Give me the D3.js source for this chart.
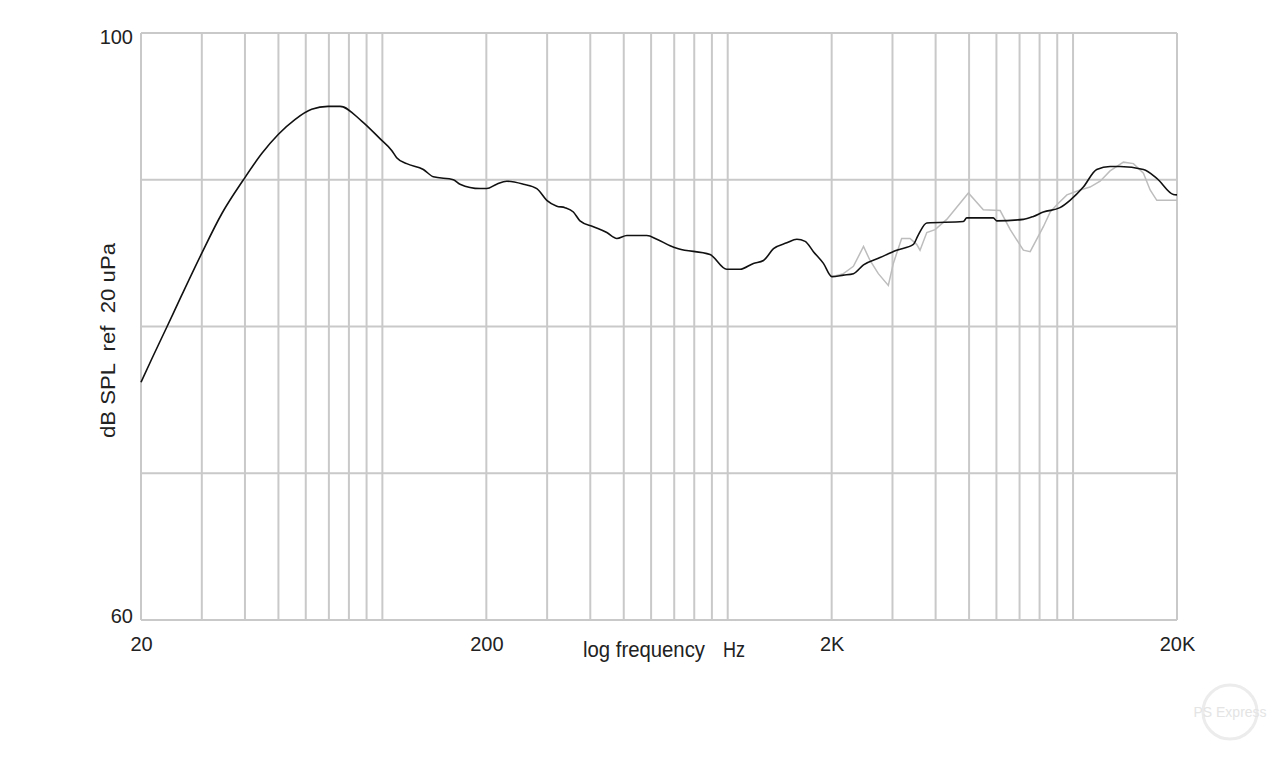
<!DOCTYPE html>
<html>
<head>
<meta charset="utf-8">
<script src="https://cdn.jsdelivr.net/npm/d3@7"></script>
<style>
  body { margin: 0; background: #fff; }
  svg { display: block; }
  text { font-family: "Liberation Sans", Arial, sans-serif; fill: #222; white-space: pre; }
</style>
</head>
<body>
<div id="graphWrapper"></div>
<script>
// frequency response

// main measurement (black)
var mainFreq = [20, 21.5, 23.8, 26.2, 30, 34.3, 39.6, 44.8, 50, 55.8, 62.4, 69.6, 75.4, 87.1, 98.4, 106.4, 110, 117.6, 131.4, 140.5,
  160.5, 167.8, 191.8, 200.5, 214.3, 229.2, 256, 280, 299.3, 320, 338, 357.3, 373.4, 408.3, 446.6,
  477.5, 510.5, 583, 623.4, 681, 719.6, 889, 993, 1086, 1187, 1269, 1357, 1483, 1586, 1676, 1771,
  1893, 2002, 2163, 2312, 2473, 2761, 3085, 3449, 3565, 3771, 4812, 4923, 5875, 6011, 7180, 7676,
  8205, 9166, 9800, 10710, 11710, 12800, 13680, 15990, 17480, 19520, 20000]
var mainDb = [76.2, 77.8, 80.0, 82.1, 85.0, 87.7, 90.0, 91.8, 93.1, 94.1, 94.8, 95.0, 95.0, 94.0, 92.8, 92.0, 91.5, 91.1, 90.7, 90.2,
  90.0, 89.7, 89.4, 89.4, 89.7, 89.9, 89.7, 89.4, 88.6, 88.2, 88.1, 87.8, 87.2, 86.8, 86.4,
  86.0, 86.2, 86.2, 85.95, 85.5, 85.3, 84.9, 83.9, 83.9, 84.3, 84.5, 85.3, 85.7, 85.95, 85.8, 85.1,
  84.3, 83.4, 83.5, 83.6, 84.2, 84.7, 85.2, 85.6, 86.25, 87.05, 87.15, 87.4, 87.4, 87.2, 87.3, 87.5,
  87.8, 88.1, 88.6, 89.5, 90.7, 90.9, 90.9, 90.7, 90.1, 89.0, 88.97]

// second measurement (light grey), only differs above 2K
var altFreq = [2002, 2163, 2312, 2473, 2583, 2730, 2918, 3017, 3189, 3373, 3525, 3605, 3771, 3986,
  4308, 4977, 5497, 6151, 6578, 7180, 7514, 8205, 8588, 8978, 9599, 10480, 11200, 11980, 12800,
  13990, 14960, 15990, 16720, 17480, 20000]
var altDb = [83.4, 83.6, 84.1, 85.45, 84.5, 83.6, 82.8, 84.3, 86.0, 86.0, 85.6, 85.2, 86.4, 86.6,
  87.3, 89.1, 87.95, 87.9, 86.6, 85.2, 85.1, 86.8, 87.8, 88.3, 88.97, 89.3, 89.5, 89.9, 90.6,
  91.2, 91.1, 90.45, 89.3, 88.6, 88.6]

var xTickVals = [20, 200, 2000, 20000]
var xTickLabels = ["20", "200", "2K", "20K"]
var yTickVals = [60, 100]
var yGridVals = [70, 80, 90]

var margin = {top: 33, right: 103, bottom: 142, left: 141},
    width = 1280 - margin.left - margin.right,
    height = 762 - margin.top - margin.bottom;

var x = d3.scaleLog().domain([20, 20000]).range([0, width]);
var y = d3.scaleLinear().domain([60, 100]).range([height, 0]);

var svg = d3.select("#graphWrapper").append("svg")
    .attr("width", 1280)
    .attr("height", 762)
  .append("g")
    .attr("transform", "translate(" + margin.left + "," + margin.top + ")");

var gridColor = "#c9c9c9"

// vertical grid (decade subdivisions)
svg.selectAll("line.vgrid")
    .data(x.ticks())
  .enter().append("line")
    .attr("class", "vgrid")
    .attr("x1", function(d) { return x(d) })
    .attr("x2", function(d) { return x(d) })
    .attr("y1", 0)
    .attr("y2", height)
    .attr("stroke", gridColor)
    .attr("stroke-width", 2);

svg.selectAll("line.hgrid")
    .data(yGridVals.concat(yTickVals))
  .enter().append("line")
    .attr("class", "hgrid")
    .attr("x1", 0)
    .attr("x2", width)
    .attr("y1", function(d) { return y(d) })
    .attr("y2", function(d) { return y(d) })
    .attr("stroke", gridColor)
    .attr("stroke-width", 2);

var line = function(fs, dbs, curve) {
  return d3.line()
    .curve(curve)
    .x(function(d, i) { return x(fs[i]) })
    .y(function(d) { return y(d) })(dbs)
}

svg.append("path")
    .attr("d", line(altFreq, altDb, d3.curveLinear))
    .attr("fill", "none")
    .attr("stroke", "#bdbdbd")
    .attr("stroke-width", 1.5);

svg.append("path")
    .attr("d", line(mainFreq, mainDb, d3.curveMonotoneX))
    .attr("fill", "none")
    .attr("stroke", "#111")
    .attr("stroke-width", 1.6);

// axes labels
var xAxis = d3.axisBottom(x)
    .tickValues(xTickVals)
    .tickSize(0)
    .tickPadding(17)
    .tickFormat(function(d, i) { return xTickLabels[i] });

var gx = svg.append("g")
    .attr("transform", "translate(0," + height + ")")
    .call(xAxis);
gx.select(".domain").remove();
gx.selectAll("text").style("font-size", "20px").attr("fill", "#222");

var yAxis = d3.axisLeft(y)
    .tickValues(yTickVals)
    .tickSize(0)
    .tickPadding(8);

var gy = svg.append("g").call(yAxis);
gy.select(".domain").remove();
gy.selectAll("text").style("font-size", "20px").attr("fill", "#222");
gy.selectAll(".tick").filter(function(d) { return d == 100 })
    .select("text").attr("dy", "0.5em");
gy.selectAll(".tick").filter(function(d) { return d == 60 })
    .select("text").attr("dy", "0.1em");

svg.append("text")
    .attr("x", 442)
    .attr("y", 624)
    .style("font-size", "22px")
    .attr("textLength", 122)
    .attr("lengthAdjust", "spacingAndGlyphs")
    .text("log frequency");

svg.append("text")
    .attr("x", 582)
    .attr("y", 624)
    .style("font-size", "22px")
    .attr("textLength", 22)
    .attr("lengthAdjust", "spacingAndGlyphs")
    .text("Hz");

svg.append("text")
    .attr("transform", "translate(-26," + (y(80) + 14) + ") rotate(-90)")
    .attr("text-anchor", "middle")
    .style("font-size", "21px")
    .attr("textLength", 195)
    .attr("lengthAdjust", "spacingAndGlyphs")
    .text("dB SPL  ref  20 uPa");

// faint watermark
var wm = d3.select("svg").append("g").attr("transform", "translate(1230,712)");
wm.append("circle").attr("r", 27).attr("fill", "none").attr("stroke", "#ececec").attr("stroke-width", 3);
wm.append("text")
    .attr("text-anchor", "middle")
    .attr("dy", "0.35em")
    .style("font-size", "14px")
    .style("fill", "#e4e4e4")
    .text("PS Express");
</script>
</body>
</html>
